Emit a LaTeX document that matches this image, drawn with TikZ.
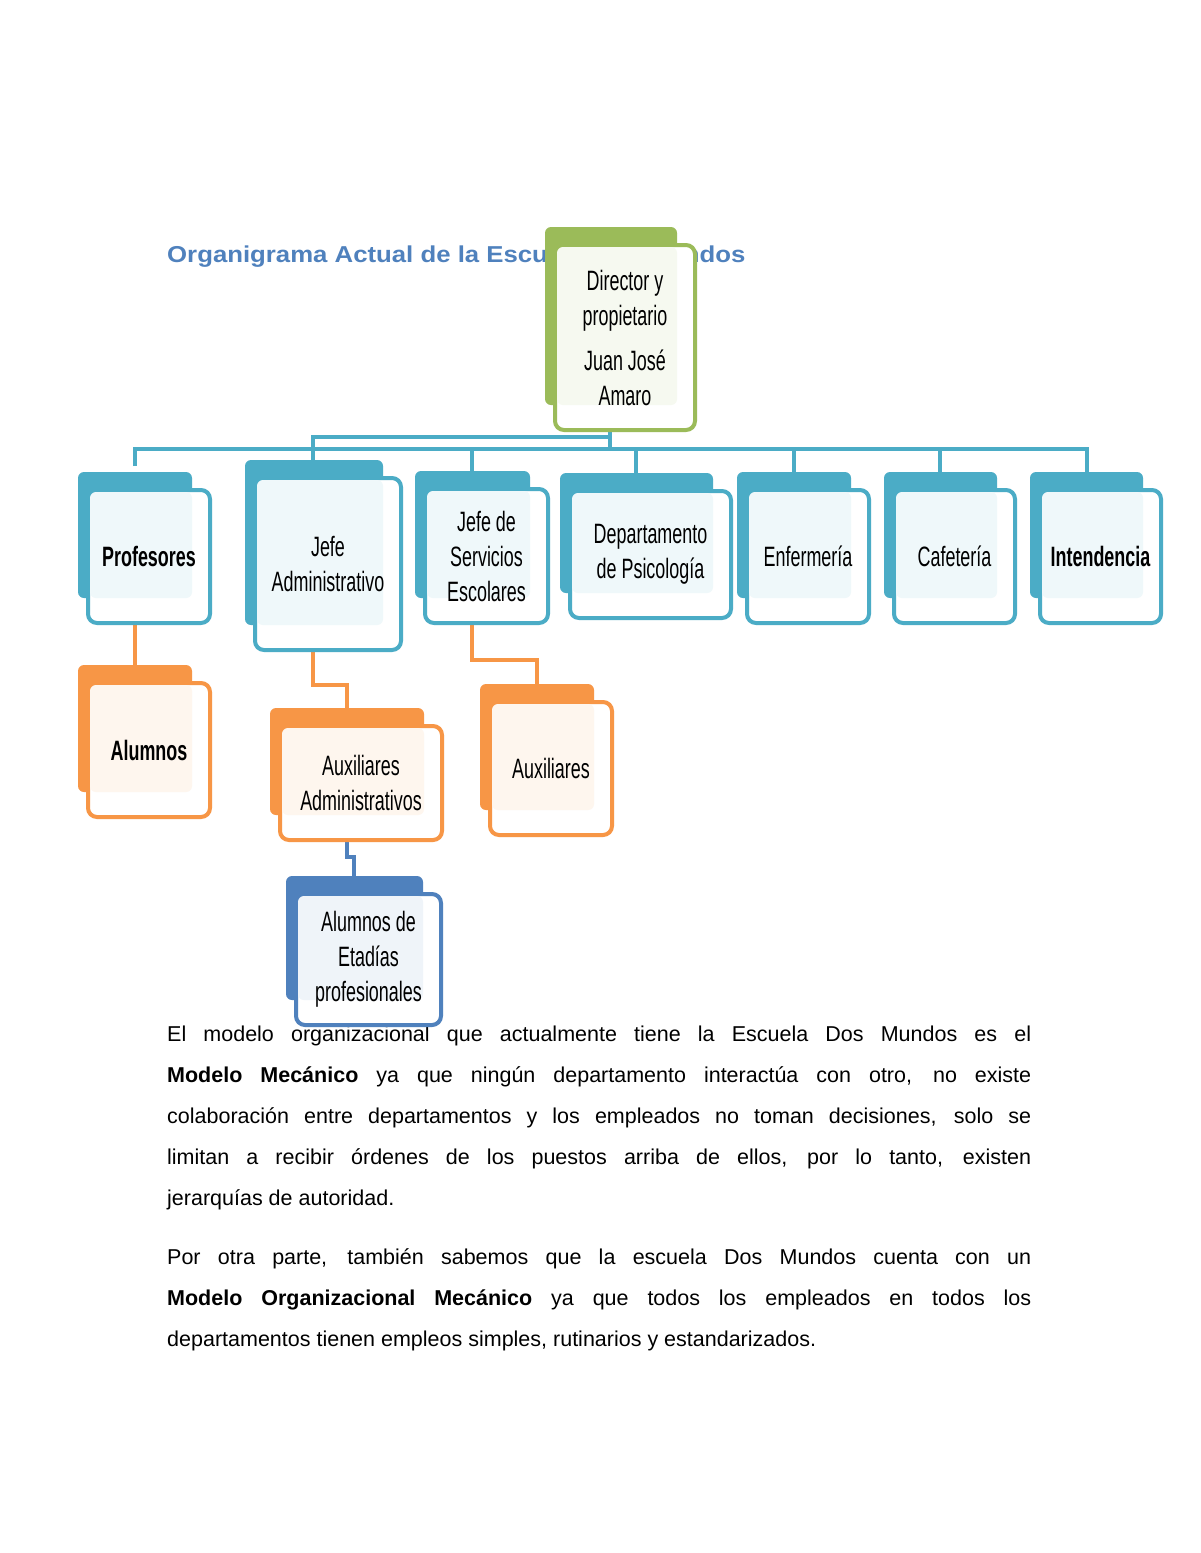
\documentclass[tikz,border=0pt]{standalone}
\usepackage{fontspec}
\setmainfont{Liberation Sans}
\newfontfamily\boxfont[FakeStretch=0.64]{Liberation Sans}
\newfontfamily\titlefont[FakeStretch=1.12]{Liberation Sans}
\definecolor{teal}{HTML}{4BACC6}
\definecolor{orng}{HTML}{F79646}
\definecolor{grn}{HTML}{9BBB59}
\definecolor{blu}{HTML}{4F81BD}
\tikzset{
  link/.style={line width=4.5pt},
  boxtext/.style={font=\boxfont\fontsize{28}{35}\selectfont, align=center},
}
% name, colour, back box corners, text
\newcommand\orgbox[7]{%
  \fill[#2, rounded corners=6pt] (#3,#4) rectangle (#5,#6);
  \draw[#2, line width=4pt, fill=white, rounded corners=9pt] (#3+10,#4+18) rectangle (#5+18,#6+25);
  \fill[#2!9, rounded corners=6pt] (#3+12,#4+20) rectangle (#5,#6);
  \node[boxtext] (#1) at ({(#3+#5+28)/2},{(#4+#6+43)/2}) {#7};
  \coordinate (#1-top) at ({(#3+#5)/2},#4);
  \coordinate (#1-bot) at ({(#3+#5+28)/2},#6+25);
}
\begin{document}
\begin{tikzpicture}[x=1pt,y=-1pt]
  \useasboundingbox[fill=white] (0,0) rectangle (1200,1553);

  \node[anchor=base west, inner sep=0pt, font=\titlefont\bfseries\fontsize{23}{26}\selectfont, text=blu] (title) at (167,262) {Organigrama Actual de la Escuela Dos Mundos};

  \node[anchor=north west, text width=864pt, align=justify, inner sep=0pt, font=\fontsize{21.5}{41}\selectfont] (para1) at (167,1026)
    {El modelo organizacional que actualmente tiene la Escuela Dos Mundos es el\linebreak
     \textbf{Modelo Mecánico} ya que ningún departamento interactúa con otro, no existe\linebreak
     colaboración entre departamentos y los empleados no toman decisiones, solo se\linebreak
     limitan a recibir órdenes de los puestos arriba de ellos, por lo tanto, existen\linebreak
     jerarquías de autoridad.};
  \node[anchor=north west, text width=864pt, align=justify, inner sep=0pt, font=\fontsize{21.5}{41}\selectfont] (para2) at (167,1248)
    {Por otra parte, también sabemos que la escuela Dos Mundos cuenta con un\linebreak
     \textbf{Modelo Organizacional Mecánico} ya que todos los empleados en todos los\linebreak
     departamentos tienen empleos simples, rutinarios y estandarizados.};

  % connectors
  \coordinate (upper) at (610,437);
  \draw[link, teal] (610,425) -- (upper) -- (313,437) -- (313,462);
  \draw[link, teal] (upper) -- (610,449);
  \draw[link, teal] (135,466) -- (135,449) -- (1087,449) -- (1087,474);
  \foreach \xx in {472,636,794,940} \draw[link, teal] (\xx,449) -- (\xx,474);
  \draw[link, orng] (135,623) -- (135,667);
  \draw[link, orng] (313,650) -- (313,685) -- (347,685) -- (347,710);
  \draw[link, orng] (472,623) -- (472,660) -- (537,660) -- (537,686);
  \draw[link, blu] (347,840) -- (347,857) -- (354,857) -- (354,878);

  % boxes
  \orgbox{dir}{grn}{545}{227}{677}{405}{Director y\\propietario\\[10pt]Juan José\\Amaro}
  \orgbox{prof}{teal}{78}{472}{192}{598}{\bfseries Profesores}
  \orgbox{jadm}{teal}{245}{460}{383}{625}{Jefe\\Administrativo}
  \orgbox{jserv}{teal}{415}{471}{530}{598}{Jefe de\\Servicios\\Escolares}
  \orgbox{psic}{teal}{560}{473}{713}{593}{Departamento\\de Psicología}
  \orgbox{enf}{teal}{737}{472}{851}{598}{Enfermería}
  \orgbox{caf}{teal}{884}{472}{997}{598}{Cafetería}
  \orgbox{intd}{teal}{1030}{472}{1143}{598}{\bfseries Intendencia}
  \orgbox{alum}{orng}{78}{665}{192}{792}{\bfseries Alumnos}
  \orgbox{auxadm}{orng}{270}{708}{424}{815}{Auxiliares\\Administrativos}
  \orgbox{aux}{orng}{480}{684}{594}{810}{Auxiliares}
  \orgbox{etad}{blu}{286}{876}{423}{1000}{Alumnos de\\Etadías\\profesionales}
\end{tikzpicture}
\end{document}
